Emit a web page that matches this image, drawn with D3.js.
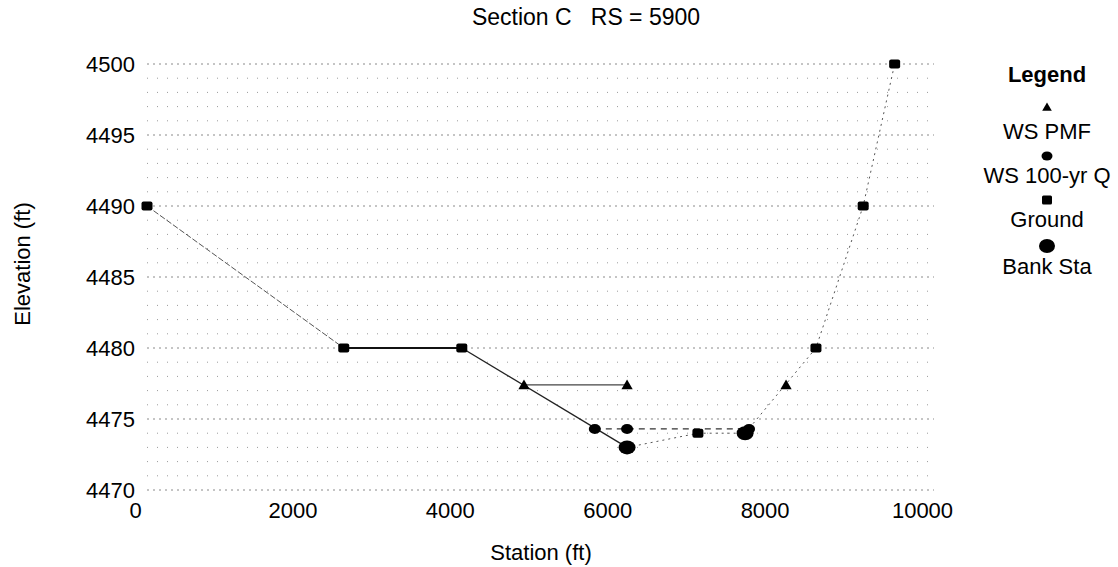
<!DOCTYPE html>
<html>
<head>
<meta charset="utf-8">
<script src="https://cdn.jsdelivr.net/npm/d3@7"></script>
<style>
  html, body { margin: 0; padding: 0; background: #fff; }
  svg { display: block; font-family: Arial, "Liberation Sans", sans-serif; }
</style>
</head>
<body>
<svg id="chart" width="1118" height="567"></svg>
<script>
// ---------------- data ----------------
const chartTitle = "Section C   RS = 5900";
const xLabel = "Station (ft)";
const yLabel = "Elevation (ft)";
const xTicks = [0, 2000, 4000, 6000, 8000, 10000];
const yTicks = [4470, 4475, 4480, 4485, 4490, 4495, 4500];

// Ground profile (station, elevation)
const groundSta  = [0,    2500, 4000, 6100, 7000, 7600, 8500, 9100, 9500];
const groundElev = [4490, 4480, 4480, 4473, 4474, 4474, 4480, 4490, 4500];
// Ground markers are drawn where the point is not a bank station
const bankSta    = [6100, 7600];
const bankElev   = [4473, 4474];

// Water surfaces
const wsPmfSta   = [4790, 6100, 8120];
const wsPmfElev  = [4477.4, 4477.4, 4477.4];
const ws100Sta   = [5690, 6100, 7650];
const ws100Elev  = [4474.3, 4474.3, 4474.3];

const legendItems = ["WS PMF", "WS 100-yr Q", "Ground", "Bank Sta"];

// ---------------- chart ----------------
const svg = d3.select("#chart");
const x = d3.scaleLinear().domain([0, 10000]).range([147, 934]);
const y = d3.scaleLinear().domain([4470, 4500]).range([490, 64]);

const zip = (a, b) => a.map((v, i) => [v, b[i]]);
const ground = zip(groundSta, groundElev);
const banks = zip(bankSta, bankElev);
const pmf = zip(wsPmfSta, wsPmfElev);
const q100 = zip(ws100Sta, ws100Elev);

// grid: dotted horizontal lines every foot
const grid = svg.append("g").attr("class", "grid");
grid.selectAll("line")
  .data(y.ticks(30))
  .join("line")
  .attr("x1", x(0)).attr("x2", x(10000))
  .attr("y1", d => y(d)).attr("y2", d => y(d))
  .attr("stroke", d => d % 5 === 0 ? "#8a8a8a" : "#9a9a9a")
  .attr("stroke-width", 1)
  .attr("stroke-dasharray", d => d % 5 === 0 ? "2,4" : "1,9");

// axes
const xAxis = svg.append("g")
  .attr("transform", `translate(0,${y(4470)})`)
  .call(d3.axisBottom(x).tickValues(xTicks).tickSize(0).tickFormat(d3.format("d")));
xAxis.select(".domain").remove();
xAxis.selectAll("text")
  .attr("y", 12).attr("dx", -12)
  .attr("font-size", 22).attr("fill", "#000")
  .attr("font-family", "Arial, 'Liberation Sans', sans-serif");

const yAxis = svg.append("g")
  .attr("transform", `translate(${x(0)},0)`)
  .call(d3.axisLeft(y).tickValues(yTicks).tickSize(0).tickPadding(12).tickFormat(d3.format("d")));
yAxis.select(".domain").remove();
yAxis.selectAll("text")
  .attr("font-size", 22).attr("fill", "#000")
  .attr("font-family", "Arial, 'Liberation Sans', sans-serif");

// lines
const line = d3.line().x(d => x(d[0])).y(d => y(d[1]));

// ground line: left overbank thin, channel solid, right side faint dotted
svg.append("path").attr("d", line(ground.slice(0, 2)))
  .attr("fill", "none").attr("stroke", "#555").attr("stroke-width", 1)
  .attr("stroke-dasharray", "6,2");
svg.append("path").attr("d", line(ground.slice(1, 3)))
  .attr("fill", "none").attr("stroke", "#111").attr("stroke-width", 2);
svg.append("path").attr("d", line(ground.slice(2, 4)))
  .attr("fill", "none").attr("stroke", "#222").attr("stroke-width", 1.4);
svg.append("path").attr("d", line(ground.slice(3)))
  .attr("fill", "none").attr("stroke", "#555").attr("stroke-width", 1)
  .attr("stroke-dasharray", "2,4");

// water surface lines
svg.append("path").attr("d", line(pmf.slice(0, 2)))
  .attr("fill", "none").attr("stroke", "#444").attr("stroke-width", 1.3);
svg.append("path").attr("d", line(q100))
  .attr("fill", "none").attr("stroke", "#333").attr("stroke-width", 1.2)
  .attr("stroke-dasharray", "6,5");

// markers
const tri = d3.symbol().type(d3.symbolTriangle).size(55);
svg.append("g").selectAll("path")
  .data(pmf).join("path")
  .attr("d", tri)
  .attr("transform", d => `translate(${x(d[0])},${y(d[1]) + 1})`)
  .attr("fill", "#000");

svg.append("g").selectAll("ellipse")
  .data(q100).join("ellipse")
  .attr("cx", d => x(d[0])).attr("cy", d => y(d[1]))
  .attr("rx", 6).attr("ry", 5).attr("fill", "#000");

svg.append("g").selectAll("rect")
  .data(ground.filter(d => !bankSta.includes(d[0]))).join("rect")
  .attr("x", d => x(d[0]) - 5.5).attr("y", d => y(d[1]) - 4.5)
  .attr("width", 11).attr("height", 9).attr("rx", 2)
  .attr("fill", "#000");

svg.append("g").selectAll("ellipse")
  .data(banks).join("ellipse")
  .attr("cx", d => x(d[0])).attr("cy", d => y(d[1]))
  .attr("rx", 8.5).attr("ry", 7).attr("fill", "#000");

// titles
svg.append("text").text(chartTitle)
  .attr("x", 586).attr("y", 25).attr("text-anchor", "middle")
  .attr("font-size", 23).attr("xml:space", "preserve").style("white-space", "pre");
svg.append("text").text(xLabel)
  .attr("x", 541).attr("y", 560).attr("text-anchor", "middle")
  .attr("font-size", 22);
svg.append("text").text(yLabel)
  .attr("transform", "translate(30,264) rotate(-90)")
  .attr("text-anchor", "middle").attr("font-size", 22);

// legend
const lg = svg.append("g").attr("transform", "translate(1047,0)");
lg.append("text").text("Legend").attr("y", 82).attr("text-anchor", "middle")
  .attr("font-size", 22).attr("font-weight", "bold");
const rowY = [108, 156, 200, 246];
const labY = [139, 183, 227, 274];
lg.append("path").attr("d", d3.symbol().type(d3.symbolTriangle).size(40)())
  .attr("transform", `translate(0,${rowY[0]})`).attr("fill", "#000");
lg.append("ellipse").attr("cx", 0).attr("cy", rowY[1]).attr("rx", 5.5).attr("ry", 4.5).attr("fill", "#000");
lg.append("rect").attr("x", -5).attr("y", rowY[2] - 4.5).attr("width", 10).attr("height", 9).attr("rx", 1.5).attr("fill", "#000");
lg.append("ellipse").attr("cx", 0).attr("cy", rowY[3]).attr("rx", 8).attr("ry", 7).attr("fill", "#000");
lg.selectAll("text.item").data(legendItems).join("text")
  .attr("class", "item")
  .attr("y", (d, i) => labY[i]).attr("text-anchor", "middle")
  .attr("font-size", 22).text(d => d);
</script>
</body>
</html>
